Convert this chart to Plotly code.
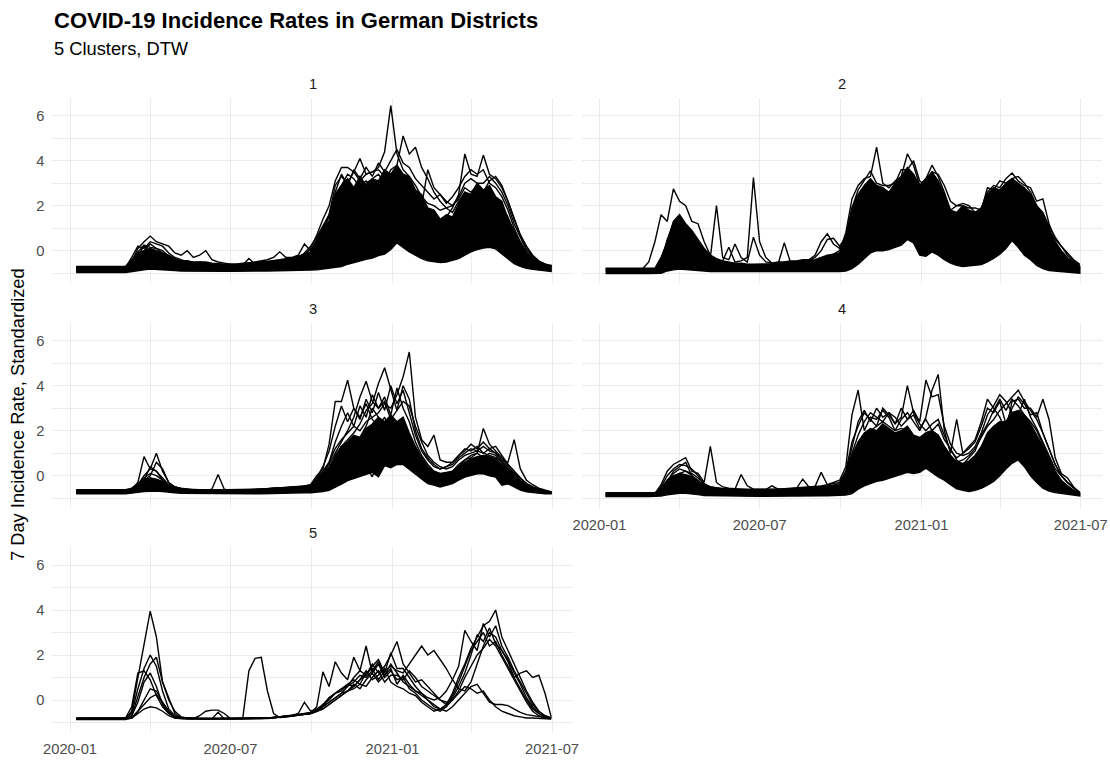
import pandas as pd
import plotly.graph_objects as go

# Weekly sampling dates (one value per district line per week)
dates = pd.date_range("2020-01-08", periods=78, freq="7D")

# ---------------- Cluster 1 ----------------
c1_lo = [
    -0.97, -0.97, -0.97, -0.97, -0.97, -0.97, -0.97, -0.97, -0.97, -0.95, -0.90, -0.85, -0.82,
    -0.82, -0.84, -0.86, -0.88, -0.90, -0.91, -0.92, -0.92, -0.92, -0.92, -0.92, -0.92, -0.92,
    -0.92, -0.92, -0.92, -0.91, -0.90, -0.90, -0.89, -0.88, -0.88, -0.88, -0.87, -0.87, -0.86,
    -0.85, -0.83, -0.80, -0.74, -0.70, -0.60, -0.52, -0.45, -0.38, -0.33, -0.22, -0.15, 0.05,
    0.35, 0.15, -0.05, -0.20, -0.35, -0.45, -0.50, -0.53, -0.50, -0.43, -0.35, -0.20, -0.05,
    0.05, 0.12, 0.15, 0.08, -0.15, -0.37, -0.58, -0.70, -0.78, -0.83, -0.87, -0.90, -0.92,
]
c1_hi = [
    -0.70, -0.70, -0.70, -0.70, -0.70, -0.70, -0.70, -0.70, -0.70, -0.40, -0.10, 0.00, 0.10,
    0.00, -0.10, -0.20, -0.35, -0.45, -0.45, -0.50, -0.50, -0.50, -0.55, -0.58, -0.60, -0.60,
    -0.60, -0.55, -0.55, -0.52, -0.50, -0.50, -0.45, -0.42, -0.40, -0.35, -0.30, -0.20, -0.05,
    0.40, 1.00, 1.30, 2.50, 2.90, 3.20, 2.80, 3.30, 2.90, 3.20, 3.10, 3.60, 3.40,
    3.80, 3.40, 3.30, 2.70, 2.50, 1.90, 1.80, 1.40, 1.60, 1.50, 2.10, 2.60, 2.50,
    3.00, 2.70, 2.90, 2.40, 2.20, 1.40, 0.90, 0.30, -0.10, -0.35, -0.50, -0.60, -0.65,
]
c1_a = [
    -0.75, -0.75, -0.75, -0.75, -0.75, -0.75, -0.75, -0.75, -0.75, -0.30, 0.20, 0.10, 0.40,
    0.30, 0.20, -0.10, -0.30, -0.40, -0.50, -0.52, -0.55, -0.55, -0.58, -0.60, -0.62, -0.62,
    -0.62, -0.60, -0.60, -0.58, -0.55, -0.52, -0.50, -0.45, -0.42, -0.38, -0.30, -0.10, 0.20,
    0.60, 1.10, 1.60, 2.90, 3.30, 3.00, 3.50, 3.10, 3.40, 3.50, 3.70, 4.40, 6.45,
    4.30, 3.60, 3.30, 2.90, 2.40, 2.10, 2.00, 1.80, 1.90, 2.00, 2.40, 3.00, 3.20,
    3.00, 3.00, 3.30, 3.00, 2.60, 2.00, 1.20, 0.60, 0.00, -0.30, -0.50, -0.60, -0.70,
]
c1_b = [
    -0.80, -0.80, -0.80, -0.80, -0.80, -0.80, -0.80, -0.80, -0.80, -0.50, 0.10, 0.40, 0.65,
    0.40, 0.30, 0.20, -0.10, -0.20, 0.00, -0.30, -0.20, 0.00, -0.40, -0.50, -0.55, -0.60,
    -0.60, -0.58, -0.55, -0.50, -0.45, -0.40, -0.30, -0.05, -0.30, -0.30, -0.20, 0.30, 0.00,
    0.50, 1.00, 1.50, 2.50, 2.90, 3.40, 3.20, 2.80, 3.00, 3.20, 3.40, 3.00, 3.60,
    3.80, 5.10, 4.30, 4.60, 3.70, 3.20, 2.60, 2.20, 1.90, 1.70, 2.20, 2.60, 2.40,
    2.80, 2.70, 2.40, 2.30, 2.00, 1.50, 0.80, 0.30, -0.10, -0.40, -0.55, -0.65, -0.72,
]
c1_c = [
    -0.90, -0.90, -0.90, -0.90, -0.90, -0.90, -0.90, -0.90, -0.90, -0.70, -0.30, 0.00, 0.30,
    0.10, -0.10, -0.30, -0.45, -0.55, -0.60, -0.62, -0.65, -0.65, -0.68, -0.70, -0.70, -0.70,
    -0.70, -0.68, -0.65, -0.62, -0.60, -0.55, -0.50, -0.45, -0.40, -0.35, -0.30, -0.20, 0.10,
    0.70, 1.40, 2.00, 3.10, 3.70, 3.70, 3.50, 4.10, 3.40, 3.50, 3.60, 3.30, 3.00,
    2.80, 3.00, 2.60, 2.30, 2.00, 3.60, 2.80, 2.50, 2.20, 2.00, 2.30, 2.80, 2.60,
    2.90, 2.60, 3.10, 3.30, 2.90, 2.20, 1.40, 0.70, 0.20, -0.20, -0.45, -0.60, -0.70,
]
c1_d = [
    -0.85, -0.85, -0.85, -0.85, -0.85, -0.85, -0.85, -0.85, -0.85, -0.60, -0.20, 0.20, 0.00,
    -0.10, -0.20, -0.35, -0.50, -0.55, -0.58, -0.60, -0.62, -0.64, -0.65, -0.66, -0.66, -0.66,
    -0.66, -0.65, -0.35, -0.60, -0.58, -0.55, -0.50, -0.45, -0.40, -0.35, -0.25, -0.15, -0.10,
    0.30, 0.80, 1.30, 2.20, 2.60, 2.80, 2.60, 2.90, 3.10, 2.80, 3.00, 3.20, 3.00,
    3.30, 2.90, 2.50, 2.20, 1.90, 1.60, 1.40, 1.30, 1.50, 1.90, 2.50, 4.30, 3.40,
    3.30, 4.25, 3.40, 3.20, 2.80, 2.20, 1.40, 0.70, 0.10, -0.25, -0.50, -0.60, -0.70,
]
c1_e = [
    -0.72, -0.72, -0.72, -0.72, -0.72, -0.72, -0.72, -0.72, -0.72, -0.50, -0.05, 0.25, 0.15,
    0.10, 0.00, -0.25, -0.40, -0.50, -0.45, -0.55, -0.50, -0.55, -0.60, -0.62, -0.64, -0.64,
    -0.64, -0.62, -0.58, -0.55, -0.50, -0.48, -0.45, -0.40, -0.35, -0.32, -0.28, -0.15, 0.05,
    0.30, 0.70, 1.60, 2.60, 3.40, 2.90, 3.60, 3.20, 3.70, 3.30, 3.90, 3.50, 4.00,
    4.50, 3.90, 3.70, 3.20, 2.90, 2.60, 2.30, 2.50, 2.10, 2.40, 2.80, 3.30, 3.60,
    3.40, 3.60, 3.00, 2.80, 2.40, 1.80, 1.00, 0.40, -0.10, -0.40, -0.55, -0.65, -0.72,
]

# ---------------- Cluster 2 ----------------
c2_lo = [
    -1.02, -1.02, -1.02, -1.02, -1.02, -1.02, -1.02, -1.02, -1.02, -1.00, -0.90, -0.85, -0.82,
    -0.82, -0.85, -0.88, -0.90, -0.93, -0.95, -0.95, -0.95, -0.95, -0.96, -0.96, -0.96, -0.96,
    -0.96, -0.96, -0.96, -0.96, -0.96, -0.95, -0.95, -0.95, -0.95, -0.94, -0.94, -0.93, -0.93,
    -0.90, -0.80, -0.60, -0.35, -0.10, 0.00, 0.00, 0.05, 0.15, 0.25, 0.50, 0.35, -0.20,
    -0.25, -0.05, -0.20, -0.40, -0.55, -0.65, -0.70, -0.68, -0.64, -0.62, -0.50, -0.34, -0.15,
    0.10, 0.45, 0.15, -0.20, -0.40, -0.65, -0.80, -0.88, -0.92, -0.95, -0.97, -0.98, -1.00,
]
c2_hi = [
    -0.78, -0.78, -0.78, -0.78, -0.78, -0.78, -0.78, -0.78, -0.78, -0.30, 0.40, 1.30, 1.60,
    1.20, 0.90, 0.50, 0.10, -0.20, -0.35, -0.45, -0.50, -0.55, -0.55, -0.60, -0.60, -0.60,
    -0.60, -0.58, -0.55, -0.52, -0.50, -0.48, -0.45, -0.42, -0.40, -0.30, -0.20, -0.15, -0.10,
    0.60, 1.90, 2.50, 2.90, 3.20, 2.90, 2.80, 2.60, 3.00, 3.30, 3.70, 3.40, 2.90,
    3.20, 3.50, 3.10, 2.50, 1.80, 1.70, 2.00, 1.80, 1.70, 1.90, 2.50, 2.80, 2.70,
    3.00, 3.20, 3.00, 2.80, 2.50, 2.00, 1.60, 1.00, 0.40, 0.00, -0.30, -0.50, -0.70,
]
c2_a = [
    -0.80, -0.80, -0.80, -0.80, -0.80, -0.80, -0.80, -0.50, 0.40, 1.60, 1.30, 2.75, 2.20,
    2.00, 1.30, 1.20, 0.40, -0.20, -0.40, -0.50, -0.55, -0.60, -0.62, -0.64, -0.65, -0.65,
    -0.65, -0.64, -0.62, -0.60, -0.58, -0.55, -0.52, -0.50, -0.45, -0.35, -0.25, -0.15, 0.00,
    0.80, 2.30, 2.90, 3.20, 3.30, 4.60, 3.00, 2.80, 3.10, 3.30, 4.30, 3.80, 2.90,
    3.20, 3.80, 3.30, 2.60, 1.80, 2.00, 2.10, 2.00, 1.70, 1.90, 2.60, 2.90, 2.80,
    3.20, 3.45, 3.10, 2.90, 2.80, 2.20, 2.30, 1.20, 0.50, 0.20, -0.20, -0.45, -0.65,
]
c2_b = [
    -0.90, -0.90, -0.90, -0.90, -0.90, -0.90, -0.90, -0.90, -0.90, -0.50, 0.50, 1.20, 1.50,
    1.00, 0.70, 0.30, -0.20, -0.30, 2.00, -0.30, -0.40, 0.30, -0.30, -0.50, 0.60, -0.20,
    -0.50, -0.55, -0.50, -0.50, -0.45, -0.45, -0.40, -0.40, -0.20, 0.40, 0.75, 0.30, 0.10,
    0.50, 1.90, 2.70, 3.10, 3.55, 3.00, 2.90, 2.90, 3.00, 3.60, 3.60, 4.00, 3.10,
    2.90, 3.50, 3.40, 2.90, 2.20, 2.00, 2.00, 1.90, 1.90, 1.80, 2.80, 2.70, 3.10,
    3.00, 3.20, 3.30, 3.00, 2.60, 2.00, 1.70, 1.10, 0.60, 0.20, -0.10, -0.40, -0.60,
]
c2_c = [
    -0.85, -0.85, -0.85, -0.85, -0.85, -0.85, -0.85, -0.85, -0.85, -0.40, 0.30, 0.90, 1.20,
    0.90, 0.60, 0.20, -0.20, -0.40, -0.50, -0.45, 0.15, -0.50, -0.45, -0.30, 3.25, 0.40,
    -0.30, -0.55, -0.60, 0.35, -0.50, -0.50, -0.45, -0.45, -0.30, 0.00, 0.50, 0.55, 0.20,
    0.60, 1.60, 2.20, 2.60, 2.90, 2.80, 2.50, 2.40, 2.60, 2.80, 3.30, 3.10, 2.50,
    2.70, 3.10, 2.80, 2.20, 1.40, 1.30, 1.50, 1.50, 1.30, 1.50, 2.10, 2.40, 2.40,
    2.70, 2.90, 2.80, 2.60, 2.40, 1.80, 1.30, 0.80, 0.30, -0.10, -0.35, -0.55, -0.75,
]

# ---------------- Cluster 3 ----------------
c3_lo = [
    -0.80, -0.80, -0.80, -0.80, -0.80, -0.80, -0.80, -0.80, -0.80, -0.78, -0.74, -0.70, -0.68,
    -0.68, -0.70, -0.72, -0.76, -0.78, -0.80, -0.80, -0.80, -0.80, -0.80, -0.80, -0.80, -0.80,
    -0.80, -0.80, -0.80, -0.80, -0.80, -0.79, -0.79, -0.78, -0.78, -0.77, -0.77, -0.76, -0.76,
    -0.74, -0.70, -0.65, -0.50, -0.38, -0.22, -0.14, -0.05, 0.05, 0.15, -0.05, 0.45, 0.35,
    0.50, 0.50, 0.30, 0.08, -0.14, -0.35, -0.42, -0.50, -0.43, -0.35, -0.20, -0.06, 0.00,
    0.08, 0.08, 0.00, -0.06, -0.42, -0.36, -0.50, -0.64, -0.72, -0.76, -0.78, -0.80, -0.80,
]
c3_hi = [
    -0.62, -0.62, -0.62, -0.62, -0.62, -0.62, -0.62, -0.62, -0.62, -0.55, -0.35, -0.20, -0.10,
    -0.15, -0.25, -0.40, -0.50, -0.56, -0.60, -0.62, -0.63, -0.64, -0.64, -0.64, -0.64, -0.64,
    -0.64, -0.63, -0.62, -0.61, -0.60, -0.59, -0.58, -0.56, -0.54, -0.52, -0.50, -0.48, -0.45,
    -0.20, 0.10, 0.40, 0.80, 1.30, 1.50, 1.80, 1.70, 2.10, 2.30, 2.60, 2.40, 2.70,
    2.40, 2.60, 1.90, 1.30, 0.80, 0.40, 0.20, 0.10, 0.15, 0.20, 0.40, 0.60, 0.75,
    0.85, 0.90, 0.85, 0.75, 0.50, 0.25, -0.05, -0.25, -0.42, -0.55, -0.62, -0.68, -0.72,
]
c3_a = [
    -0.70, -0.70, -0.70, -0.70, -0.70, -0.70, -0.70, -0.70, -0.70, -0.60, -0.30, 0.85, 0.30,
    0.20, -0.20, -0.45, -0.55, -0.60, -0.62, -0.64, -0.65, -0.65, -0.66, -0.66, -0.66, -0.66,
    -0.66, -0.65, -0.64, -0.63, -0.62, -0.60, -0.58, -0.56, -0.54, -0.52, -0.50, -0.48, -0.45,
    -0.10, 0.20, 0.60, 1.20, 1.60, 1.90, 2.20, 2.00, 2.40, 2.60, 2.80, 3.20, 3.00,
    3.60, 4.40, 5.50, 2.60, 1.60, 1.30, 1.80, 0.70, 0.60, 0.60, 0.90, 1.20, 1.10,
    1.30, 1.00, 0.90, 0.80, 0.60, 0.30, 0.10, -0.20, -0.40, -0.55, -0.65, -0.70, -0.75,
]
c3_b = [
    -0.72, -0.72, -0.72, -0.72, -0.72, -0.72, -0.72, -0.72, -0.72, -0.65, -0.40, 0.00, 0.30,
    1.00, 0.20, -0.30, -0.50, -0.58, -0.62, -0.64, -0.65, -0.66, -0.67, -0.68, -0.68, -0.68,
    -0.68, -0.67, -0.66, -0.65, -0.64, -0.62, -0.60, -0.58, -0.56, -0.54, -0.52, -0.48, -0.40,
    0.00, 0.30, 1.40, 3.30, 3.30, 4.25, 3.00, 2.60, 3.20, 2.50, 2.20, 2.60, 1.80,
    1.40, 1.20, 1.00, 0.60, 0.30, 0.00, -0.20, -0.30, -0.20, 0.00, 0.30, 0.50, 0.70,
    0.80, 0.90, 0.80, 0.70, 0.40, 0.10, -0.10, -0.35, -0.50, -0.60, -0.70, -0.72, -0.75,
]
c3_c = [
    -0.68, -0.68, -0.68, -0.68, -0.68, -0.68, -0.68, -0.68, -0.68, -0.65, -0.50, -0.20, 0.00,
    0.60, 0.30, -0.30, -0.50, -0.58, -0.62, -0.64, -0.65, -0.65, -0.60, 0.05, -0.60, -0.66,
    -0.66, -0.65, -0.64, -0.62, -0.60, -0.58, -0.56, -0.55, -0.54, -0.52, -0.50, -0.48, -0.50,
    -0.30, 0.00, 0.30, 0.80, 1.30, 1.60, 1.90, 2.30, 2.90, 3.20, 4.10, 4.80, 3.90,
    2.90, 4.00, 3.40, 2.00, 1.20, 0.80, 0.50, 0.30, 0.40, 0.50, 0.80, 1.00, 1.20,
    1.10, 1.30, 1.10, 1.00, 0.70, 0.60, 1.60, 0.30, -0.20, -0.40, -0.55, -0.65, -0.72,
]
c3_d = [
    -0.74, -0.74, -0.74, -0.74, -0.74, -0.74, -0.74, -0.74, -0.74, -0.68, -0.45, -0.20, 0.40,
    0.20, -0.10, -0.40, -0.55, -0.62, -0.65, -0.66, -0.67, -0.68, -0.68, -0.68, -0.68, -0.68,
    -0.68, -0.67, -0.66, -0.65, -0.64, -0.62, -0.60, -0.58, -0.56, -0.54, -0.52, -0.50, -0.45,
    -0.20, 0.20, 0.50, 1.00, 1.50, 2.00, 2.60, 3.50, 4.20, 3.30, 3.00, 3.50, 2.70,
    3.90, 3.00, 2.40, 1.50, 0.90, 0.50, 0.20, 0.00, -0.10, 0.10, 0.40, 0.70, 0.90,
    1.00, 2.10, 1.40, 1.10, 0.80, 0.50, 0.20, -0.10, -0.35, -0.50, -0.60, -0.68, -0.72,
]
c3_e = [
    -0.66, -0.66, -0.66, -0.66, -0.66, -0.66, -0.66, -0.66, -0.66, -0.62, -0.40, -0.10, 0.10,
    0.00, -0.20, -0.40, -0.52, -0.58, -0.60, -0.62, -0.62, -0.63, -0.63, -0.63, -0.63, -0.63,
    -0.63, -0.62, -0.61, -0.60, -0.59, -0.58, -0.57, -0.55, -0.53, -0.51, -0.49, -0.47, -0.50,
    -0.30, 0.00, 0.30, 0.90, 1.30, 1.10, 1.50, 1.70, 2.20, 3.00, 2.60, 1.50, 0.50,
    1.80, 2.20, 1.60, 1.10, 0.60, 0.20, 0.00, -0.10, 0.00, 0.20, 0.50, 0.70, 0.80,
    1.00, 0.80, 1.00, 0.90, 0.60, 0.30, 0.00, -0.30, -0.50, -0.60, -0.65, -0.70, -0.75,
]
c3_f = [
    -0.76, -0.76, -0.76, -0.76, -0.76, -0.76, -0.76, -0.76, -0.76, -0.74, -0.65, -0.55, -0.45,
    -0.40, -0.50, -0.60, -0.68, -0.72, -0.74, -0.75, -0.75, -0.76, -0.76, -0.76, -0.76, -0.76,
    -0.76, -0.75, -0.75, -0.74, -0.73, -0.72, -0.71, -0.70, -0.69, -0.68, -0.66, -0.64, -0.60,
    -0.45, -0.20, 0.00, -0.20, 0.30, 0.80, 1.00, 0.90, 0.40, -0.05, 0.70, 1.20, 1.00,
    0.50, 1.60, 1.20, 0.80, 0.40, 0.00, -0.20, -0.30, -0.35, -0.20, 0.00, 0.30, 0.50,
    0.60, 0.70, 0.60, 0.50, 0.30, 0.00, -0.20, -0.40, -0.55, -0.65, -0.72, -0.76, -0.78,
]
c3_g = [
    -0.64, -0.64, -0.64, -0.64, -0.64, -0.64, -0.64, -0.64, -0.64, -0.60, -0.45, -0.25, -0.10,
    -0.20, -0.35, -0.50, -0.58, -0.62, -0.63, -0.64, -0.64, -0.65, -0.65, -0.65, -0.65, -0.65,
    -0.65, -0.64, -0.63, -0.62, -0.60, -0.58, -0.56, -0.54, -0.52, -0.50, -0.48, -0.46, -0.40,
    -0.10, 0.40, 1.10, 2.20, 3.10, 2.40, 3.00, 2.50, 3.40, 2.80, 3.70, 2.90, 4.00,
    3.20, 3.80, 2.80, 1.80, 1.10, 0.70, 0.40, 0.30, 0.40, 0.60, 0.90, 1.10, 1.40,
    1.20, 1.50, 1.20, 1.30, 0.90, 0.50, 0.20, -0.10, -0.35, -0.50, -0.60, -0.68, -0.72,
]
c3_h = [
    -0.78, -0.78, -0.78, -0.78, -0.78, -0.78, -0.78, -0.78, -0.78, -0.76, -0.60, -0.40, -0.30,
    -0.30, -0.45, -0.60, -0.70, -0.74, -0.76, -0.77, -0.77, -0.78, -0.78, -0.78, -0.78, -0.78,
    -0.78, -0.77, -0.76, -0.75, -0.74, -0.73, -0.72, -0.70, -0.68, -0.66, -0.64, -0.60, -0.55,
    -0.30, 0.00, 0.60, 1.50, 2.20, 2.80, 2.20, 3.10, 2.60, 3.60, 3.00, 3.30, 2.50,
    2.90, 3.30, 3.10, 2.20, 1.50, 0.90, 0.60, 0.40, 0.30, 0.40, 0.70, 0.90, 1.00,
    1.10, 1.00, 1.20, 1.00, 0.70, 0.40, 0.10, -0.20, -0.40, -0.55, -0.65, -0.72, -0.78,
]

# ---------------- Cluster 4 ----------------
c4_lo = [
    -0.93, -0.93, -0.93, -0.93, -0.93, -0.93, -0.93, -0.93, -0.93, -0.90, -0.85, -0.80, -0.78,
    -0.78, -0.80, -0.84, -0.88, -0.90, -0.90, -0.91, -0.91, -0.91, -0.91, -0.91, -0.91, -0.91,
    -0.91, -0.91, -0.91, -0.91, -0.90, -0.90, -0.90, -0.90, -0.90, -0.89, -0.89, -0.88, -0.88,
    -0.86, -0.80, -0.60, -0.45, -0.35, -0.25, -0.20, -0.12, -0.05, 0.05, 0.15, 0.10, 0.15,
    0.33, 0.15, -0.05, -0.20, -0.40, -0.58, -0.65, -0.70, -0.65, -0.56, -0.42, -0.25, 0.00,
    0.30, 0.55, 0.70, 0.40, 0.00, -0.30, -0.55, -0.68, -0.75, -0.80, -0.84, -0.87, -0.90,
]
c4_hi = [
    -0.76, -0.76, -0.76, -0.76, -0.76, -0.76, -0.76, -0.76, -0.76, -0.55, -0.20, 0.00, 0.10,
    0.05, -0.05, -0.25, -0.40, -0.50, -0.55, -0.58, -0.60, -0.60, -0.60, -0.60, -0.60, -0.62,
    -0.62, -0.62, -0.62, -0.60, -0.60, -0.58, -0.56, -0.55, -0.55, -0.52, -0.48, -0.42, -0.35,
    0.10, 0.90, 1.50, 1.90, 2.10, 2.00, 2.30, 2.10, 1.90, 2.00, 2.20, 1.80, 1.70,
    1.90, 2.00, 1.80, 1.30, 0.90, 0.60, 0.55, 0.65, 0.90, 1.30, 1.90, 2.20, 2.40,
    2.40, 2.80, 2.90, 2.70, 2.30, 1.80, 1.30, 0.70, 0.15, -0.25, -0.50, -0.65, -0.78,
]
c4_a = [
    -0.80, -0.80, -0.80, -0.80, -0.80, -0.80, -0.80, -0.80, -0.80, -0.40, 0.20, 0.50, 0.65,
    0.80, 0.20, 0.10, -0.30, 1.30, -0.30, -0.50, -0.55, -0.58, -0.60, -0.62, -0.62, -0.62,
    -0.62, -0.60, -0.60, -0.58, -0.56, -0.54, -0.52, -0.50, -0.48, -0.45, -0.40, -0.30, -0.20,
    0.40, 2.70, 3.80, 2.00, 2.60, 2.50, 2.90, 2.60, 2.00, 2.50, 2.80, 2.40, 2.00,
    2.60, 3.80, 4.50, 2.00, 1.00, 2.50, 1.00, 1.20, 1.50, 2.20, 3.00, 2.80, 3.30,
    2.30, 3.00, 3.50, 3.20, 2.70, 2.80, 1.90, 1.20, 0.50, 0.00, -0.30, -0.55, -0.75,
]
c4_b = [
    -0.85, -0.85, -0.85, -0.85, -0.85, -0.85, -0.85, -0.85, -0.85, -0.50, 0.00, 0.30, 0.50,
    0.45, 0.30, 0.00, -0.40, -0.50, -0.55, -0.58, -0.60, -0.60, 0.05, -0.45, -0.60, -0.62,
    -0.62, -0.45, -0.60, -0.60, -0.58, -0.56, -0.15, -0.50, -0.48, 0.15, -0.40, -0.35, -0.30,
    0.20, 1.50, 2.20, 2.80, 2.50, 2.20, 3.00, 2.70, 2.30, 2.60, 4.00, 2.80, 2.30,
    2.00, 2.30, 2.50, 1.80, 1.10, 0.80, 1.00, 1.30, 1.60, 2.40, 3.40, 3.00, 2.60,
    2.00, 3.30, 3.40, 3.00, 3.00, 2.60, 3.40, 2.50, 0.80, 0.10, -0.10, -0.50, -0.75,
]
c4_c = [
    -0.78, -0.78, -0.78, -0.78, -0.78, -0.78, -0.78, -0.78, -0.78, -0.60, -0.30, 0.20, 0.40,
    0.60, 0.00, -0.20, -0.45, -0.55, -0.58, -0.60, -0.62, -0.64, -0.64, -0.64, -0.64, -0.64,
    -0.64, -0.63, -0.62, -0.61, -0.60, -0.58, -0.56, -0.54, -0.52, -0.50, -0.46, -0.42, -0.40,
    0.00, 1.00, 1.80, 2.40, 2.80, 2.60, 2.40, 2.80, 2.60, 2.20, 2.50, 2.90, 2.40,
    4.25, 3.50, 3.60, 2.20, 1.40, 1.00, 0.90, 1.00, 1.30, 1.90, 2.70, 3.10, 3.60,
    3.30, 2.80, 2.70, 3.40, 2.60, 2.10, 1.50, 0.90, 0.30, 0.00, -0.30, -0.55, -0.75,
]
c4_d = [
    -0.88, -0.88, -0.88, -0.88, -0.88, -0.88, -0.88, -0.88, -0.88, -0.70, -0.40, -0.10, 0.10,
    0.20, 0.10, -0.10, -0.35, -0.50, -0.58, -0.62, -0.64, -0.66, -0.68, -0.68, -0.68, -0.68,
    -0.68, -0.67, -0.66, -0.65, -0.64, -0.62, -0.60, -0.58, -0.56, -0.54, -0.50, -0.48, -0.45,
    -0.10, 0.50, 1.10, 1.60, 2.00, 2.20, 2.40, 2.20, 2.00, 2.10, 2.00, 1.80, 1.60,
    1.90, 2.00, 1.80, 1.30, 0.90, 0.60, 0.70, 0.90, 1.20, 1.70, 2.20, 2.50, 2.90,
    3.20, 3.50, 3.80, 3.30, 2.90, 2.50, 1.90, 1.20, 0.50, 0.00, -0.30, -0.55, -0.75,
]
c4_e = [
    -0.82, -0.82, -0.82, -0.82, -0.82, -0.82, -0.82, -0.82, -0.82, -0.60, -0.20, 0.10, 0.30,
    0.20, 0.00, -0.30, -0.50, -0.58, -0.60, -0.62, -0.64, -0.65, -0.65, -0.66, -0.66, -0.66,
    -0.66, -0.65, -0.64, -0.63, -0.62, -0.60, -0.58, -0.56, -0.54, -0.52, -0.48, -0.44, -0.40,
    0.10, 1.30, 2.40, 2.90, 2.40, 3.00, 2.60, 2.80, 2.30, 3.00, 2.50, 2.70, 2.10,
    2.50, 2.00, 2.30, 1.60, 1.20, 0.70, 0.50, 0.80, 1.10, 1.80, 2.30, 2.90, 3.40,
    2.90, 3.40, 3.10, 2.70, 2.40, 2.00, 1.40, 0.80, 0.20, -0.20, -0.45, -0.65, -0.78,
]
c4_f = [
    -0.90, -0.90, -0.90, -0.90, -0.90, -0.90, -0.90, -0.90, -0.90, -0.80, -0.55, -0.35, -0.20,
    -0.25, -0.40, -0.60, -0.75, -0.82, -0.85, -0.86, -0.87, -0.88, -0.88, -0.88, -0.88, -0.88,
    -0.88, -0.87, -0.86, -0.85, -0.84, -0.82, -0.80, -0.78, -0.76, -0.72, -0.68, -0.62, -0.58,
    -0.40, 0.00, -0.30, -0.40, 0.20, -0.10, 0.60, 0.20, 0.90, 0.50, 1.20, 0.60, 1.00,
    0.70, 1.20, 0.50, 0.00, -0.30, -0.50, -0.40, -0.20, 0.20, 0.60, 1.20, 1.70, 2.10,
    2.30, 1.90, 2.40, 1.80, 1.30, 0.90, 0.40, 0.00, -0.30, -0.55, -0.70, -0.80, -0.88,
]

# ---------------- Cluster 5 ----------------
c5_a = [
    -0.84, -0.84, -0.84, -0.84, -0.84, -0.84, -0.84, -0.84, -0.84, -0.50, 1.00, 2.40, 3.95,
    2.80, 0.80, 0.10, -0.60, -0.80, -0.82, -0.83, -0.84, -0.84, -0.84, -0.84, -0.84, -0.84,
    -0.84, -0.84, -0.83, -0.83, -0.82, -0.80, -0.78, -0.76, -0.74, -0.70, -0.66, -0.62, -0.60,
    -0.50, -0.30, 0.10, 0.30, 0.50, 0.70, 0.60, 0.90, 1.30, 0.90, 1.10, 1.40, 0.80,
    0.60, 0.50, 0.30, 0.20, -0.10, -0.30, -0.50, -0.40, -0.20, 0.30, 1.00, 1.60, 2.30,
    2.80, 3.30, 3.50, 4.00, 2.80, 2.20, 1.60, 1.00, 0.40, -0.10, -0.50, -0.70, -0.80,
]
c5_b = [
    -0.82, -0.82, -0.82, -0.82, -0.82, -0.82, -0.82, -0.82, -0.82, -0.60, 0.50, 1.40, 2.00,
    1.50, 0.40, -0.40, -0.70, -0.78, -0.80, -0.81, -0.82, -0.82, -0.82, -0.82, -0.82, -0.82,
    -0.82, -0.82, -0.82, -0.81, -0.80, -0.79, -0.77, -0.75, -0.72, -0.68, -0.64, -0.60, -0.58,
    -0.50, -0.20, 0.00, 0.30, 0.50, 0.60, 1.00, 1.30, 1.10, 1.60, 1.20, 1.50, 2.00,
    2.60, 1.60, 1.20, 0.80, 0.90, 0.60, 0.30, 0.00, -0.20, 0.10, 0.60, 1.20, 2.00,
    2.90, 2.60, 3.20, 2.50, 2.20, 1.70, 1.00, 0.50, 0.00, -0.40, -0.60, -0.75, -0.80,
]
c5_c = [
    -0.86, -0.86, -0.86, -0.86, -0.86, -0.86, -0.86, -0.86, -0.86, -0.70, 0.20, 1.00, 1.60,
    1.90, 0.80, 0.00, -0.50, -0.75, -0.80, -0.82, -0.83, -0.84, -0.84, -0.84, -0.84, -0.84,
    -0.84, -0.84, -0.83, -0.82, -0.81, -0.80, -0.78, -0.75, -0.72, -0.68, -0.60, -0.10, -0.50,
    -0.40, -0.20, 0.10, 0.30, 0.40, 0.70, 0.90, 0.70, 1.20, 1.40, 0.90, 1.30, 1.50,
    1.30, 1.20, 1.60, 2.00, 2.40, 2.00, 2.20, 1.80, 1.40, 0.90, 0.50, 0.40, 0.80,
    1.60, 2.40, 3.00, 2.80, 2.20, 1.80, 1.20, 0.70, 0.10, -0.30, -0.60, -0.75, -0.80,
]
c5_d = [
    -0.80, -0.80, -0.80, -0.80, -0.80, -0.80, -0.80, -0.80, -0.80, -0.30, 1.20, 1.30, 0.90,
    0.20, -0.30, -0.60, -0.75, -0.80, -0.81, -0.82, -0.82, -0.82, -0.82, -0.82, -0.82, -0.82,
    -0.82, -0.82, -0.82, -0.81, -0.80, -0.79, -0.78, -0.76, -0.74, -0.70, -0.66, -0.62, -0.60,
    -0.30, 1.25, 0.60, 1.70, 1.20, 0.90, 1.90, 1.30, 2.40, 1.20, 1.60, 1.00, 1.30,
    0.90, 1.00, 0.50, 0.30, 0.00, -0.20, -0.40, -0.50, -0.30, 0.20, 0.80, 1.50, 2.20,
    2.60, 3.00, 2.40, 2.60, 2.00, 1.50, 1.00, 1.20, 1.30, 1.00, 1.10, 0.30, -0.75,
]
c5_e = [
    -0.85, -0.85, -0.85, -0.85, -0.85, -0.85, -0.85, -0.85, -0.85, -0.70, -0.10, 0.80, 1.20,
    0.60, -0.20, -0.60, -0.75, -0.80, -0.82, -0.83, -0.70, -0.50, -0.45, -0.45, -0.60, -0.82,
    -0.83, -0.83, -0.83, -0.82, -0.81, -0.80, -0.78, -0.76, -0.73, -0.70, -0.66, -0.63, -0.60,
    -0.50, -0.30, -0.10, 0.10, 0.30, 0.40, 0.60, 0.90, 1.10, 1.50, 1.80, 1.20, 2.10,
    1.40, 1.40, 1.00, 0.60, 0.30, 0.00, -0.20, -0.40, -0.50, -0.30, 0.00, 0.30, 0.60,
    0.70, 0.30, -0.10, -0.20, -0.20, -0.25, -0.40, -0.55, -0.65, -0.70, -0.75, -0.80, -0.82,
]
c5_f = [
    -0.83, -0.83, -0.83, -0.83, -0.83, -0.83, -0.83, -0.83, -0.83, -0.80, -0.50, 0.00, 0.50,
    0.40, -0.10, -0.50, -0.80, -0.82, -0.83, -0.83, -0.84, -0.84, -0.84, -0.55, -0.84, -0.84,
    -0.84, -0.84, -0.84, -0.83, -0.82, -0.81, -0.79, -0.77, -0.74, -0.71, -0.67, -0.64, -0.60,
    -0.50, -0.40, -0.20, 0.00, 0.20, 0.40, 0.50, 0.70, 0.60, 1.00, 1.30, 0.80, 1.10,
    1.10, 0.90, 1.30, 1.00, 0.60, 0.40, 0.20, 0.00, -0.10, 0.00, 0.30, 0.60, 0.50,
    0.30, 0.40, 0.00, -0.30, -0.50, -0.60, -0.70, -0.75, -0.80, -0.80, -0.82, -0.84, -0.85,
]
c5_g = [
    -0.87, -0.87, -0.87, -0.87, -0.87, -0.87, -0.87, -0.87, -0.87, -0.80, -0.60, -0.40, -0.30,
    -0.35, -0.50, -0.70, -0.80, -0.84, -0.85, -0.85, -0.85, -0.85, -0.85, -0.85, -0.85, -0.85,
    -0.85, -0.85, -0.85, -0.84, -0.83, -0.82, -0.80, -0.77, -0.74, -0.70, -0.65, -0.60, -0.55,
    -0.45, -0.30, -0.10, 0.10, 0.30, 0.60, 0.80, 1.10, 1.00, 1.30, 1.70, 1.10, 1.60,
    1.20, 0.80, 0.60, 0.40, 0.30, 0.10, 0.00, 0.10, 0.40, 0.90, 1.50, 3.10, 2.60,
    2.20, 3.40, 2.80, 3.30, 2.40, 1.90, 1.30, 0.80, 0.30, -0.20, -0.50, -0.70, -0.80,
]
c5_h = [
    -0.81, -0.81, -0.81, -0.81, -0.81, -0.81, -0.81, -0.81, -0.81, -0.80, -0.50, -0.20, 0.10,
    0.25, -0.10, -0.50, -0.75, -0.80, -0.81, -0.82, -0.82, -0.82, -0.82, -0.82, -0.82, -0.82,
    -0.82, -0.82, 1.30, 1.85, 1.90, 0.40, -0.60, -0.78, -0.76, -0.72, -0.68, -0.64, -0.60,
    -0.50, -0.40, -0.20, 0.00, 0.20, 0.40, 0.70, 0.50, 0.90, 1.20, 0.80, 1.10, 1.40,
    0.70, 1.10, 0.70, 0.40, 0.20, 0.00, -0.30, -0.40, -0.30, 0.00, 0.40, 1.00, 1.50,
    2.00, 2.30, 2.70, 2.40, 1.90, 1.40, 0.90, 0.40, -0.10, -0.50, -0.70, -0.80, -0.82,
]

# Dense cores (where many district lines overlap) and individual district lines
clusters = {
    1: {"band": (c1_lo, c1_hi), "lines": [c1_a, c1_b, c1_c, c1_d, c1_e]},
    2: {"band": (c2_lo, c2_hi), "lines": [c2_a, c2_b, c2_c]},
    3: {"band": (c3_lo, c3_hi), "lines": [c3_a, c3_b, c3_c, c3_d, c3_e, c3_f, c3_g, c3_h]},
    4: {"band": (c4_lo, c4_hi), "lines": [c4_a, c4_b, c4_c, c4_d, c4_e, c4_f]},
    5: {"band": None, "lines": [c5_a, c5_b, c5_c, c5_d, c5_e, c5_f, c5_g, c5_h]},
}

for cid, spec in clusters.items():
    series = list(spec["lines"]) + (list(spec["band"]) if spec["band"] else [])
    for s in series:
        if len(s) != len(dates):
            raise ValueError(f"cluster {cid}: series has {len(s)} values")

# ---------------- Layout geometry ----------------
W, H = 1110, 762
FONT = "Liberation Sans, Arial, Helvetica, sans-serif"
GRID = "#EBEBEB"
LINE_W = 1.4

col_px = {0: (52.4, 573.2), 1: (581.9, 1101.8)}
row_px = {0: (97.7, 283.1), 1: (322.7, 508.1), 2: (547.0, 732.4)}
facet_cell = {1: (0, 0), 2: (0, 1), 3: (1, 0), 4: (1, 1), 5: (2, 0)}
x_labels_on = {4, 5}
y_labels_on = {1, 3, 5}


def fx(px):
    return px / W


def fy(py):
    return 1 - py / H


fig = go.Figure()
layout = dict(
    width=W,
    height=H,
    autosize=False,
    margin=dict(l=0, r=0, t=0, b=0),
    paper_bgcolor="white",
    plot_bgcolor="white",
    showlegend=False,
    hovermode=False,
    font=dict(family=FONT, color="#000000"),
)

annotations = []

for cid, (r, c) in facet_cell.items():
    sfx = "" if cid == 1 else str(cid)
    xref, yref = "x" + sfx, "y" + sfx
    x0, x1 = col_px[c]
    y0, y1 = row_px[r]

    layout["xaxis" + sfx] = dict(
        domain=[fx(x0), fx(x1)],
        anchor=yref,
        type="date",
        range=["2019-12-12", "2021-07-25"],
        tick0="2020-01-01",
        dtick="M6",
        tickformat="%Y-%m",
        showgrid=True,
        gridcolor=GRID,
        gridwidth=1.4,
        minor=dict(tick0="2020-01-01", dtick="M3", showgrid=True,
                   gridcolor=GRID, gridwidth=0.9),
        zeroline=False,
        showline=False,
        ticks="",
        showticklabels=cid in x_labels_on,
        tickfont=dict(family=FONT, size=14.7, color="#4D4D4D"),
        ticklabelstandoff=6,
        automargin=False,
        fixedrange=True,
    )
    layout["yaxis" + sfx] = dict(
        domain=[fy(y1), fy(y0)],
        anchor=xref,
        range=[-1.44, 6.8],
        tick0=0,
        dtick=2,
        showgrid=True,
        gridcolor=GRID,
        gridwidth=1.4,
        minor=dict(tick0=0, dtick=1, showgrid=True, gridcolor=GRID, gridwidth=0.9),
        zeroline=False,
        showline=False,
        ticks="",
        showticklabels=cid in y_labels_on,
        tickfont=dict(family=FONT, size=14.7, color="#4D4D4D"),
        ticklabelstandoff=7,
        automargin=False,
        fixedrange=True,
    )

    spec = clusters[cid]
    if spec["band"] is not None:
        lo, hi = spec["band"]
        fig.add_trace(go.Scatter(
            x=list(dates) + list(dates[::-1]),
            y=list(hi) + list(lo[::-1]),
            mode="lines",
            fill="toself",
            fillcolor="black",
            line=dict(color="black", width=LINE_W),
            xaxis=xref, yaxis=yref,
            hoverinfo="skip",
        ))
    for s in spec["lines"]:
        fig.add_trace(go.Scatter(
            x=dates, y=s, mode="lines",
            line=dict(color="black", width=LINE_W),
            xaxis=xref, yaxis=yref,
            hoverinfo="skip",
        ))

    # facet strip label
    annotations.append(dict(
        text=str(cid), xref="paper", yref="paper",
        x=fx((x0 + x1) / 2), y=fy(y0 - 13.7),
        xanchor="center", yanchor="middle", showarrow=False,
        font=dict(family=FONT, size=14.7, color="#1A1A1A"),
    ))

annotations += [
    dict(text="<b>COVID-19 Incidence Rates in German Districts</b>",
         xref="paper", yref="paper", x=fx(52.4), y=fy(21.0),
         xanchor="left", yanchor="middle", showarrow=False,
         font=dict(family=FONT, size=22, color="#000000")),
    dict(text="5 Clusters, DTW",
         xref="paper", yref="paper", x=fx(52.4), y=fy(48.5),
         xanchor="left", yanchor="middle", showarrow=False,
         font=dict(family=FONT, size=18.3, color="#000000")),
    dict(text="7 Day Incidence Rate, Standardized",
         xref="paper", yref="paper", x=fx(18), y=fy(415),
         xanchor="center", yanchor="middle", textangle=-90, showarrow=False,
         font=dict(family=FONT, size=18.3, color="#000000")),
]
layout["annotations"] = annotations

fig.update_layout(**layout)
fig.write_html("out.html")
